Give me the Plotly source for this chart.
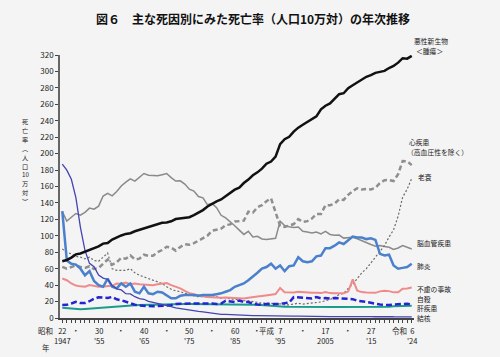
import plotly.graph_objects as go

years = list(range(1947, 2025))

cancer = [69.0, 70.6, 73.5, 77.4, 78.5, 80.8, 82.2, 85.3, 87.1, 90.5, 91.3, 95.5, 98.2, 100.4, 102.3, 103.2, 105.5, 107.2, 108.4, 110.8,
          111.9, 114.1, 115.8, 116.3, 117.7, 120.4, 121.2, 122.2, 122.6, 125.3, 128.4, 131.3, 135.7, 139.1, 142.0, 144.2, 148.3, 152.5,
          156.1, 158.5, 164.2, 168.4, 173.6, 177.2, 181.7, 187.8, 190.4, 196.4, 211.6, 217.5, 220.4, 226.7, 231.6, 235.2, 238.8, 241.7,
          245.4, 253.9, 258.3, 261.0, 266.9, 272.3, 273.5, 279.7, 283.2, 286.6, 290.3, 293.5, 295.5, 298.3, 299.5, 300.7, 304.2, 306.6,
          310.7, 316.1, 315.6, 319.0]

heart = [62.2, 60.0, 62.0, 64.2, 62.0, 61.0, 63.0, 59.6, 60.9, 66.6, 71.2, 64.8, 67.9, 73.2, 72.1, 76.2, 71.2, 72.2, 77.0, 75.6,
         75.7, 80.2, 82.7, 86.7, 85.6, 82.0, 86.5, 89.8, 89.2, 91.0, 93.9, 97.1, 100.2, 106.2, 107.8, 108.7, 113.0, 113.9, 117.3, 117.9,
         118.4, 129.4, 128.1, 134.8, 137.2, 142.2, 145.6, 128.6, 112.0, 110.8, 112.2, 114.3, 120.4, 116.8, 117.8, 121.0, 126.5, 126.5,
         137.2, 137.2, 139.2, 144.4, 143.7, 149.8, 154.5, 157.9, 156.5, 157.0, 156.5, 158.4, 164.3, 167.6, 167.9, 166.6, 174.9, 190.9,
         190.7, 186.0]

senility = [84.0, 80.0, 78.0, 75.0, 74.0, 72.0, 74.0, 70.0, 69.0, 74.0, 79.0, 60.0, 58.0, 58.0, 58.0, 60.0, 55.0, 52.0, 50.0, 48.0,
            46.0, 44.0, 42.0, 38.1, 35.0, 33.0, 32.0, 30.0, 28.1, 27.0, 26.0, 26.0, 26.0, 27.6, 26.0, 24.0, 25.0, 23.0, 23.0, 22.0,
            21.0, 21.0, 20.0, 19.7, 18.0, 18.0, 18.0, 17.0, 17.3, 16.0, 16.0, 17.0, 18.0, 16.9, 17.5, 18.0, 18.5, 19.5, 21.0, 22.5,
            24.5, 28.6, 30.0, 35.9, 41.0, 48.0, 55.0, 60.0, 67.7, 74.0, 81.0, 88.2, 98.5, 107.3, 123.8, 147.1, 156.7, 170.0]

cerebro = [129.4, 117.9, 122.6, 127.1, 125.2, 128.5, 133.7, 132.4, 136.1, 148.4, 151.7, 148.6, 153.9, 160.7, 165.4, 169.4, 166.5,
           171.7, 175.8, 173.8, 173.1, 173.1, 174.4, 175.8, 170.8, 166.7, 166.9, 163.0, 156.7, 154.5, 147.8, 146.2, 137.7, 139.5,
           134.3, 125.0, 121.7, 117.2, 112.2, 106.9, 101.7, 105.5, 98.5, 99.4, 96.2, 95.6, 96.0, 96.9, 117.9, 112.6, 111.0, 110.0,
           110.8, 105.5, 104.7, 103.4, 104.7, 102.3, 105.3, 101.7, 100.8, 100.9, 97.2, 97.7, 98.2, 96.5, 94.1, 91.1, 89.4, 87.4, 88.2,
           87.1, 86.1, 83.5, 85.2, 88.1, 86.1, 84.0]

pneumonia = [130, 70, 66, 65, 60, 52, 57, 45, 40, 38, 48, 38, 36, 42, 38, 42, 32, 30, 38, 30, 29, 32, 31, 27, 24, 24, 27, 28,
             28, 28, 27, 28, 28, 28, 29, 30, 32, 34, 38, 40, 42, 46, 50, 55, 60, 62, 66, 60, 64, 57, 63, 64, 74, 69, 68, 69, 75,
             76, 85, 85, 88, 92, 90, 94, 99, 98, 98, 96, 97, 95, 78, 76, 77, 64, 60, 61, 62, 66]

tuberculosis = [187.2, 179.9, 168.8, 146.4, 110.3, 82.2, 66.5, 62.4, 52.3, 48.6, 46.9, 39.5, 35.5, 34.2, 29.6, 29.3, 25.9, 23.6,
                22.8, 20.3, 19.0, 17.8, 16.9, 15.4, 13.7, 12.3, 11.3, 10.6, 9.5, 8.9, 8.0, 7.4, 6.6, 5.5, 5.0, 4.5, 4.5, 4.1, 3.9,
                3.6, 3.4, 3.0, 3.0, 3.0, 2.8, 2.7, 2.6, 2.6, 2.6, 2.3, 2.2, 2.2, 2.3, 2.1, 2.0, 1.8, 1.9, 1.8, 1.8, 1.7, 1.7, 1.8,
                1.7, 1.7, 1.7, 1.7, 1.7, 1.7, 1.6, 1.5, 1.8, 1.8, 1.7, 1.5, 1.5, 1.4, 1.3, 1.3]

accidents = [48, 46, 42, 39.5, 38.5, 38, 40, 39, 38, 38, 39, 39, 42, 41.7, 43, 41, 42, 41, 40.9, 40, 40, 41, 42, 42.5, 40, 38,
             36, 33, 30.3, 29, 27.5, 26.5, 25.5, 25.1, 24.5, 24.5, 24.8, 24.6, 24.6, 23.9, 23.8, 24.6, 25.0, 26.2, 26.9, 28.0,
             28.3, 29.1, 36.5, 31.4, 31.1, 31.1, 32.0, 31.4, 31.4, 30.7, 30.7, 30.3, 31.6, 30.3, 30.1, 30.3, 30.0, 32.2, 47.1,
             33.2, 31.5, 31.1, 30.6, 30.6, 32.4, 33.2, 32.7, 31.2, 31.2, 35.6, 36.0, 37.0]

suicide = [15.7, 16.0, 17.7, 19.6, 18.2, 18.2, 20.4, 23.4, 25.2, 24.5, 24.3, 25.7, 22.7, 21.6, 19.6, 17.5, 16.1, 15.1, 14.7, 15.2,
           14.2, 14.5, 14.5, 15.3, 15.6, 17.0, 17.4, 17.5, 18.0, 17.6, 17.9, 17.6, 18.0, 17.7, 17.1, 17.5, 21.0, 20.4, 19.4, 21.2,
           19.6, 19.4, 17.3, 16.4, 16.1, 16.9, 16.6, 16.9, 17.2, 17.8, 18.8, 25.4, 25.0, 24.1, 23.3, 23.8, 25.5, 24.0, 24.2, 23.7,
           24.4, 24.0, 24.4, 23.4, 22.9, 21.0, 20.7, 19.5, 18.5, 17.3, 16.4, 16.1, 15.7, 16.4, 16.5, 17.4, 17.3, 16.5]

liver = [12.5, 12.0, 11.5, 11.0, 10.5, 11.0, 11.5, 12.0, 12.5, 13.0, 13.5, 14.0, 14.5, 15.0, 15.2, 15.4, 15.6, 15.8, 16.0, 16.2,
         16.4, 16.6, 16.8, 17.0, 17.0, 17.0, 17.0, 17.0, 17.0, 17.0, 17.0, 17.0, 17.0, 17.0, 17.0, 17.0, 17.0, 17.0, 17.0, 16.8,
         16.6, 16.4, 16.2, 16.0, 15.5, 15.0, 14.5, 14.2, 14.0, 13.8, 13.6, 13.5, 13.5, 13.5, 13.5, 13.5, 13.5, 13.5, 13.5, 13.5,
         13.5, 13.5, 13.5, 13.5, 13.3, 13.2, 13.1, 13.0, 13.0, 13.1, 13.3, 13.5, 13.8, 14.2, 14.5, 14.8, 15.0, 15.0]

series = [
    ("脳血管疾患", cerebro, dict(color="#8a8a8a", width=1.5)),
    ("老衰", senility, dict(color="#6a6a6a", width=1.2, dash="2px,2px")),
    ("心疾患", heart, dict(color="#8f8f8f", width=2.5, dash="5px,3px")),
    ("肝疾患", liver, dict(color="#1a9c8c", width=2)),
    ("不慮の事故", accidents, dict(color="#f08a8a", width=2)),
    ("自殺", suicide, dict(color="#2424d0", width=2.5, dash="6px,3px")),
    ("肺炎", pneumonia, dict(color="#4a80cc", width=2.5)),
    ("結核", tuberculosis, dict(color="#4444b4", width=1.3)),
    ("悪性新生物", cancer, dict(color="#111111", width=2.5)),
]

tick_years = [1947, 1950, 1955, 1960, 1965, 1970, 1975, 1980, 1985, 1990, 1995, 2000, 2005, 2010, 2015, 2024]
tick_text = ["22<br>1947", "・", "30<br>'55", "・", "40<br>'65", "・", "50<br>'75", "・", "60<br>'85", "・",
             "7<br>'95", "・", "17<br>2005", "・", "27<br>'15", "6<br>'24"]

# era prefixes: (text, right-edge pixel x)
era_labels = [("昭和", 54), ("平成", 276), ("令和", 408)]

# right-side labels: (text, left pixel x, centre pixel y)
end_labels = [
    ("悪性新生物", 413, 41), ("＜腫瘍＞", 416, 51),
    ("心疾患", 408, 142), ("（高血圧性を除く）", 406, 152),
    ("老衰", 418, 177),
    ("脳血管疾患", 417, 243), ("肺炎", 417, 266), ("不慮の事故", 417, 289),
    ("自殺", 417, 298.5), ("肝疾患", 417, 308), ("結核", 417, 317.5),
]

y_title_chars = ["死", "亡", "率", "︵", "人", "口", "10", "万", "対", "︶"]

FONT = "Noto Sans CJK JP"
L, R, T, B = 60, 85.5, 55, 39
W, H = 500, 357
PW, PH = W - L - R, H - T - B


def px(xp):
    return (xp - L) / PW


def py(yp):
    return (H - B - yp) / PH


fig = go.Figure()
for name, vals, line in series:
    fig.add_trace(go.Scatter(x=years, y=vals, mode="lines", name=name, line=line, showlegend=False))

annotations = []
for txt, xp, yp in end_labels:
    annotations.append(dict(x=px(xp), y=py(yp), xref="paper", yref="paper", text=txt, showarrow=False,
                            xanchor="left", yanchor="middle", borderpad=0,
                            font=dict(size=6.8, color="#222", family=FONT)))
for yr, txt in zip(tick_years, tick_text):
    annotations.append(dict(x=yr, y=py(324), xref="x", yref="paper", text=txt, showarrow=False,
                            xanchor="center", yanchor="top", borderpad=0,
                            font=dict(size=7.5, color="#222", family=FONT)))
for txt, xp in era_labels:
    annotations.append(dict(x=px(xp), y=py(324), xref="paper", yref="paper", text=txt, showarrow=False,
                            xanchor="right", yanchor="top", borderpad=0,
                            font=dict(size=7.5, color="#222", family=FONT)))
annotations.append(dict(x=px(46), y=py(347), xref="paper", yref="paper", text="年", showarrow=False,
                        xanchor="center", yanchor="middle", font=dict(size=7.5, color="#222", family=FONT)))
for i, ch in enumerate(y_title_chars):
    annotations.append(dict(x=px(25), y=py(122 + i * 8.8), xref="paper", yref="paper", text=ch, showarrow=False,
                            xanchor="center", yanchor="middle", borderpad=0,
                            font=dict(size=6.2, color="#222", family=FONT)))

fig.update_layout(
    width=W, height=H,
    margin=dict(l=L, r=R, t=T, b=B, autoexpand=False),
    paper_bgcolor="#f4f4f4", plot_bgcolor="#f4f4f4",
    font=dict(family=FONT, color="#222"),
    title=dict(text="<b>図６　主な死因別にみた死亡率（人口10万対）の年次推移</b>",
               x=0.506, xanchor="center", y=1 - 20 / 357, yanchor="middle",
               font=dict(size=12, color="#111", family=FONT)),
    xaxis=dict(range=[1946.5, 2024.5], showgrid=False, zeroline=False,
               tickmode="array", tickvals=tick_years, showticklabels=False,
               ticks="outside", ticklen=3, tickcolor="#444",
               minor=dict(tick0=1947, dtick=1, ticks="outside", ticklen=3, tickcolor="#444"),
               showline=True, linecolor="#444", linewidth=1.5),
    yaxis=dict(range=[0, 320], dtick=20, showgrid=False, zeroline=False,
               ticks="outside", ticklen=3, tickcolor="#444",
               tickfont=dict(size=8, color="#222"), showline=True, linecolor="#666", linewidth=1.5),
    annotations=annotations,
)

fig.write_html("out.html", config={"displayModeBar": False},
               post_script="document.body.style.margin='0';document.body.style.background='#f4f4f4';")
